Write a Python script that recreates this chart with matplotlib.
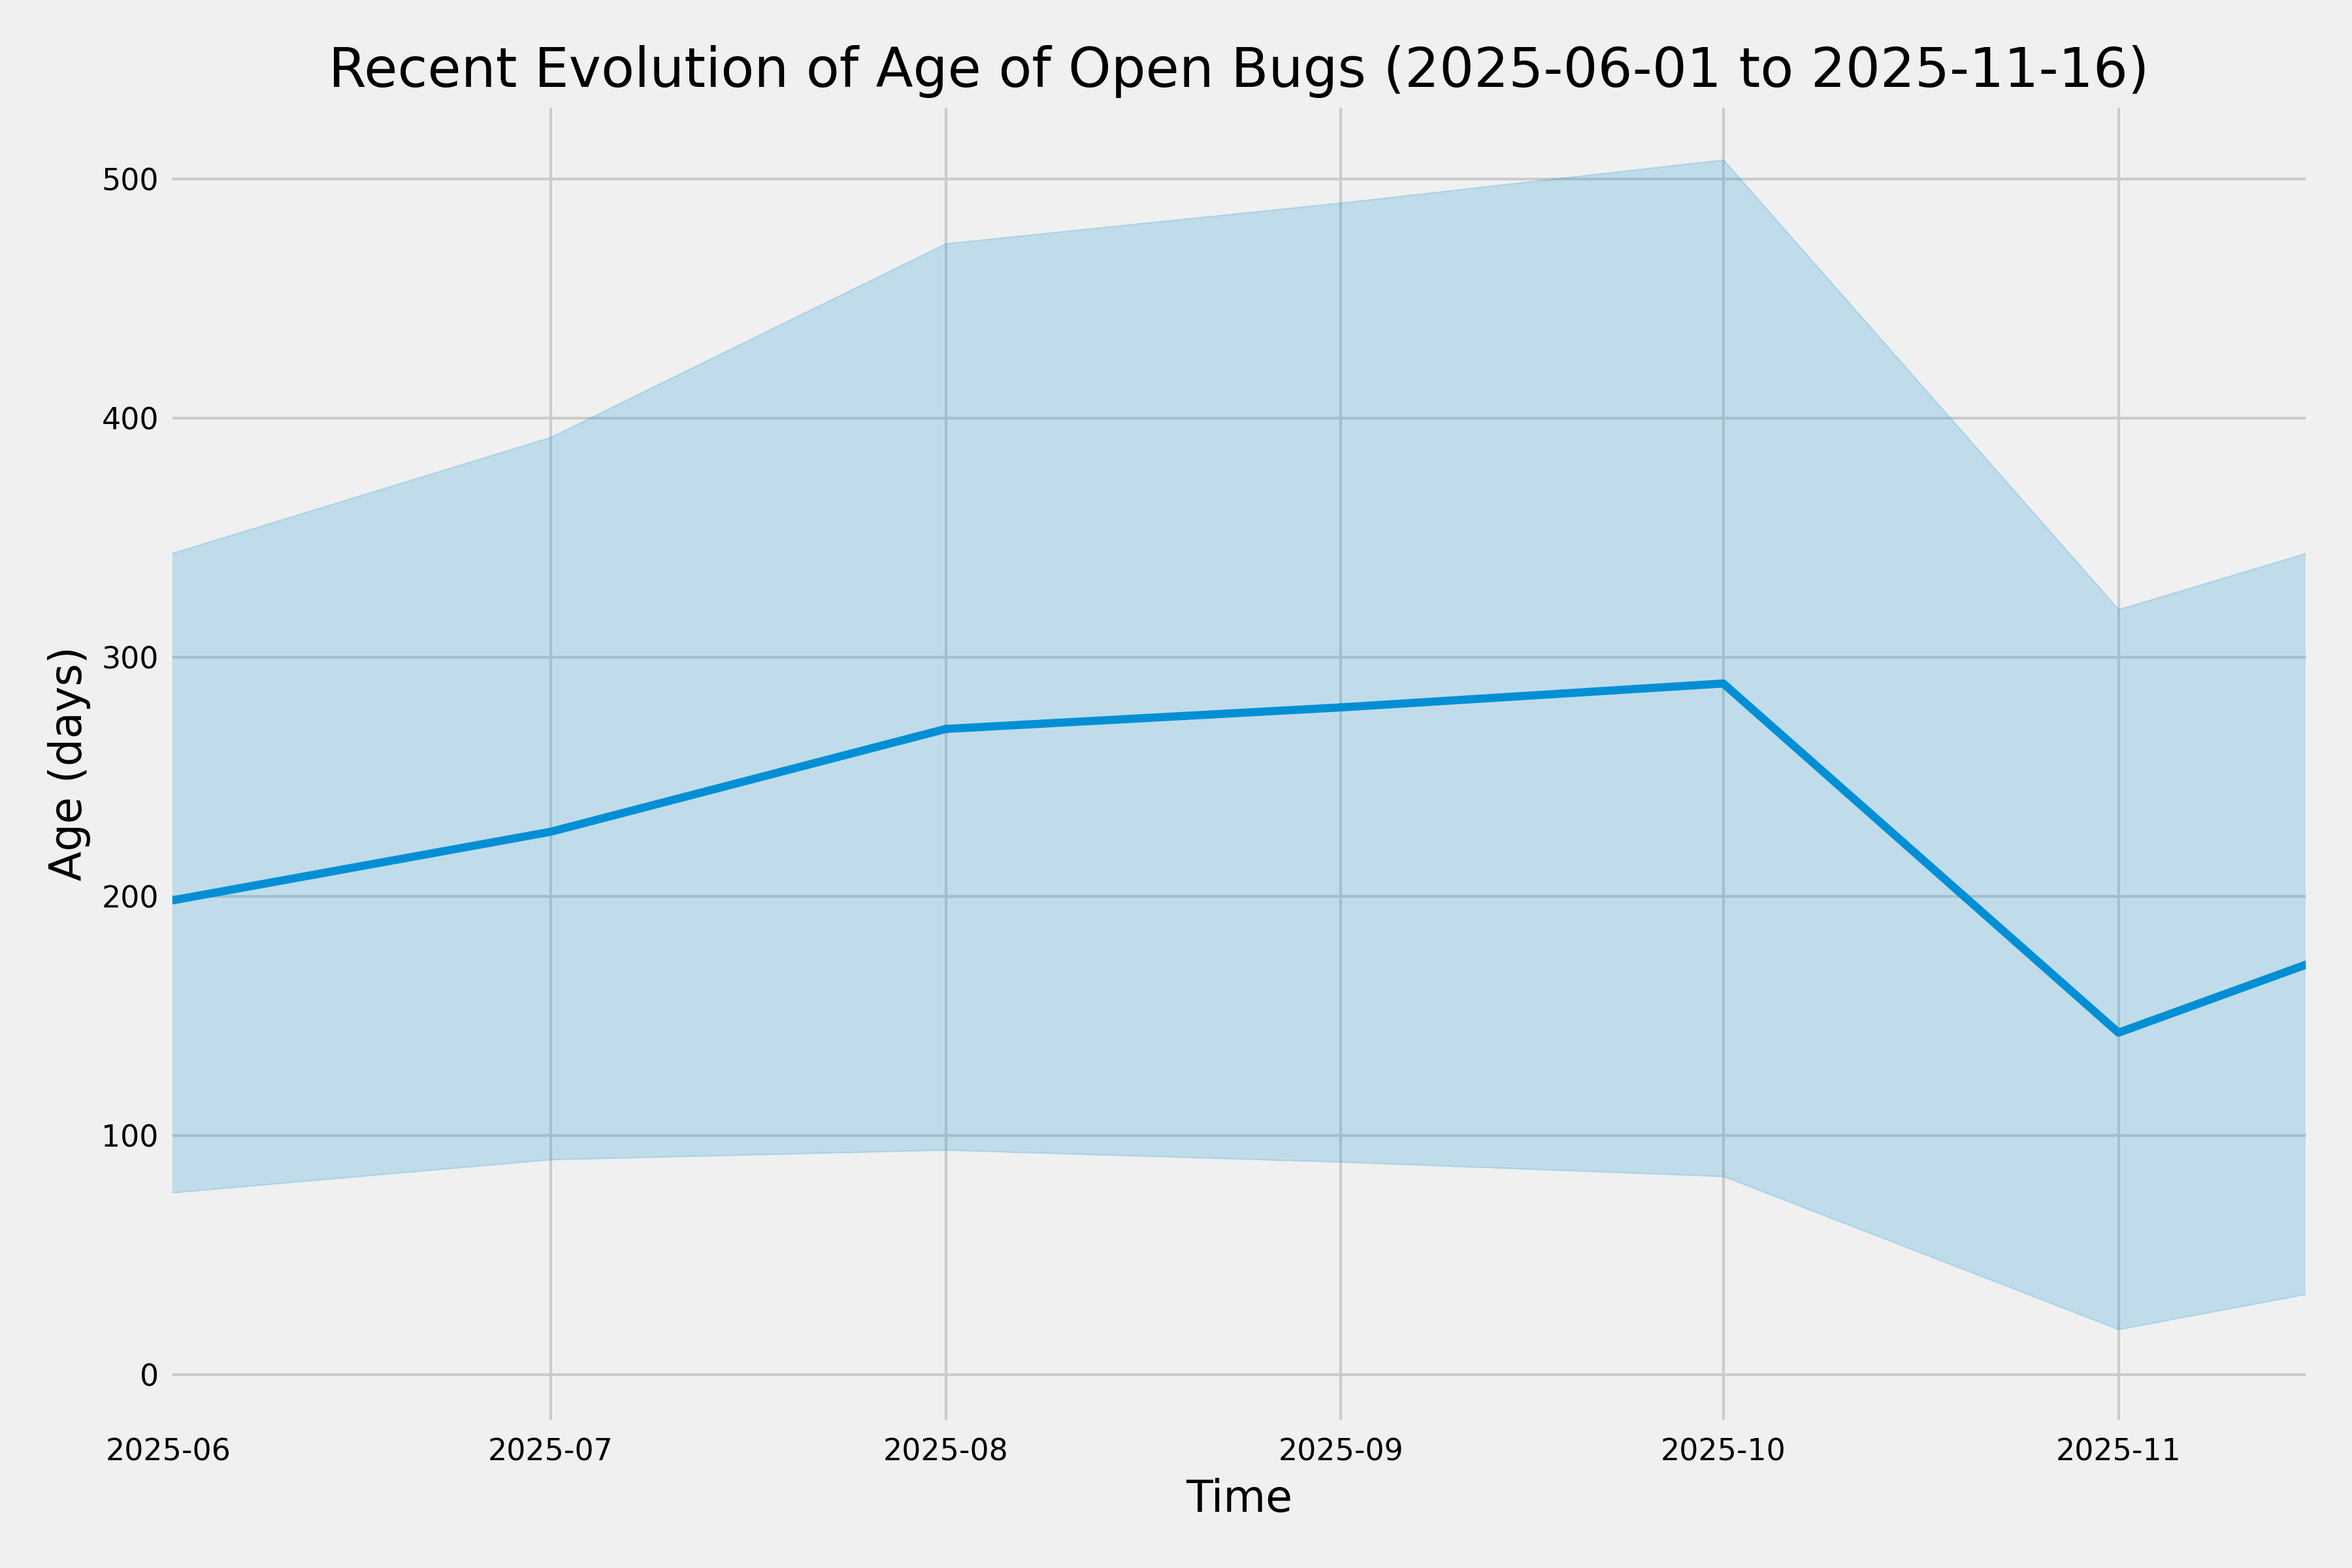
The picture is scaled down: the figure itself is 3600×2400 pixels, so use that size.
import pandas as pd
import matplotlib
matplotlib.use('Agg')
import matplotlib.pyplot as plt
import matplotlib.dates as mdates

plt.style.use('fivethirtyeight')

# monthly snapshots of open bug age
dates = ['2025-06-01', '2025-07-01', '2025-08-01', '2025-09-01',
         '2025-10-01', '2025-11-01', '2025-11-16']
mean_age = [198, 227, 270, 279, 289, 143, 172]
upper_age = [343, 392, 473, 490, 508, 320, 344]
lower_age = [76, 90, 94, 89, 83, 19, 34]

t = pd.to_datetime(dates)

fig, ax = plt.subplots(figsize=(12, 8))
fig.patch.set_facecolor('#f0f0f0')

ax.fill_between(t, lower_age, upper_age, color='#008fd5', alpha=0.2)
ax.plot(t, mean_age, color='#008fd5', linewidth=3)

ax.set_xlim(t[0], t[-1])
ax.set_ylim(-20.5, 531.5)
ax.xaxis.set_major_locator(mdates.MonthLocator())
ax.xaxis.set_major_formatter(mdates.DateFormatter('%Y-%m'))
ax.tick_params(labelsize=11)
ax.tick_params(axis='x', length=0, pad=5)

ax.set_title('Recent Evolution of Age of Open Bugs (2025-06-01 to 2025-11-16)', fontsize=20, pad=6)
ax.set_xlabel('Time', fontsize=16)
ax.set_ylabel('Age (days)', fontsize=16)

plt.subplots_adjust(left=0.0715, right=0.982, top=0.934, bottom=0.092)
plt.savefig('out.png', dpi=300)
